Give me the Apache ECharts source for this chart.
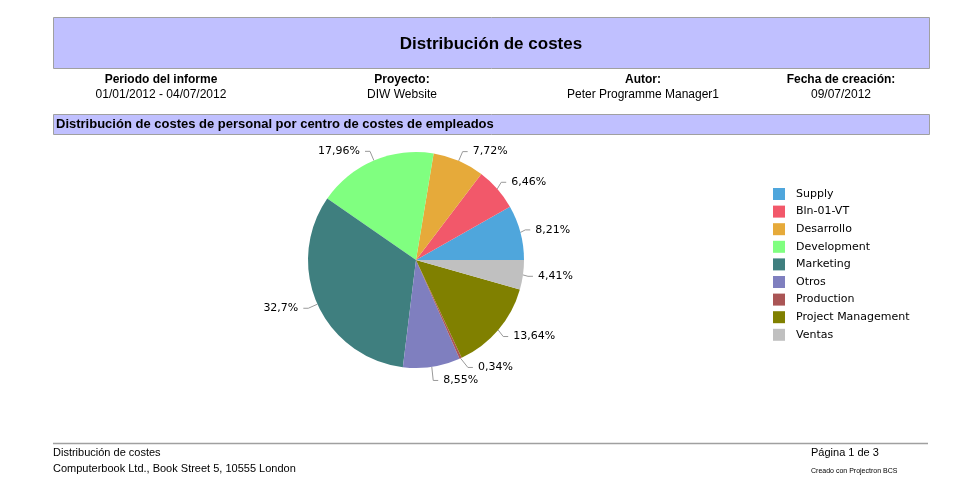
<!DOCTYPE html>
<html>
<head>
<meta charset="utf-8">
<script src="https://cdn.jsdelivr.net/npm/echarts@6/dist/echarts.min.js"></script>
<style>
  html, body { margin: 0; padding: 0; background: #fff; }
  #chart { width: 960px; height: 484px; }
</style>
</head>
<body>
<div id="chart"></div>
<script>
// centros de coste y porcentajes
const categories = ['Supply', 'Bln-01-VT', 'Desarrollo', 'Development', 'Marketing', 'Otros', 'Production', 'Project Management', 'Ventas']
const shares = [8.21, 6.46, 7.72, 17.96, 32.7, 8.55, 0.34, 13.64, 4.41]
const colors = ['#4fa6dc', '#f2586a', '#e6aa3a', '#80ff80', '#3f7f7f', '#7f7fbf', '#aa5555', '#808000', '#c0c0c0']

const headerLabels = ['Periodo del informe', 'Proyecto:', 'Autor:', 'Fecha de creación:']
const headerValues = ['01/01/2012 - 04/07/2012', 'DIW Website', 'Peter Programme Manager1', '09/07/2012']
const headerX = [161, 402, 643, 841]

const sans = '"Liberation Sans", Arial, sans-serif'
const chartFont = '"DejaVu Sans", sans-serif'

const chart = echarts.init(document.getElementById('chart'))

const headerTexts = []
headerLabels.forEach((label, i) => {
  headerTexts.push({
    type: 'text', x: headerX[i], y: 79.5,
    style: { text: label, font: 'bold 12px ' + sans, fill: '#000', textAlign: 'center', textVerticalAlign: 'middle' }
  })
  headerTexts.push({
    type: 'text', x: headerX[i], y: 94.5,
    style: { text: headerValues[i], font: '12px ' + sans, fill: '#000', textAlign: 'center', textVerticalAlign: 'middle' }
  })
})

chart.setOption({
  animation: false,
  color: colors,
  graphic: [
    {
      type: 'rect', shape: { x: 53.5, y: 17.5, width: 876, height: 51 },
      style: { fill: '#c0c0ff', stroke: '#a0a0a0', lineWidth: 1 }
    },
    {
      type: 'text', x: 491, y: 44,
      style: { text: 'Distribución de costes', font: 'bold 17px ' + sans, fill: '#000', textAlign: 'center', textVerticalAlign: 'middle' }
    },
    ...headerTexts,
    {
      type: 'rect', shape: { x: 53.5, y: 114.5, width: 876, height: 20 },
      style: { fill: '#c0c0ff', stroke: '#a0a0a0', lineWidth: 1 }
    },
    {
      type: 'text', x: 56, y: 124,
      style: { text: 'Distribución de costes de personal por centro de costes de empleados', font: 'bold 13px ' + sans, fill: '#000', textVerticalAlign: 'middle' }
    },
    {
      type: 'line', shape: { x1: 53, y1: 443.5, x2: 928, y2: 443.5 },
      style: { stroke: '#a0a0a0', lineWidth: 1.5 }
    },
    {
      type: 'text', x: 53, y: 453,
      style: { text: 'Distribución de costes', font: '11px ' + sans, fill: '#000', textVerticalAlign: 'middle' }
    },
    {
      type: 'text', x: 53, y: 469,
      style: { text: 'Computerbook Ltd., Book Street 5, 10555 London', font: '11px ' + sans, fill: '#000', textVerticalAlign: 'middle' }
    },
    {
      type: 'text', x: 811, y: 453,
      style: { text: 'Página 1 de 3', font: '11px ' + sans, fill: '#000', textVerticalAlign: 'middle' }
    },
    {
      type: 'text', x: 811, y: 471,
      style: { text: 'Creado con Projectron BCS', font: '7px ' + sans, fill: '#000', textVerticalAlign: 'middle' }
    }
  ],
  legend: {
    orient: 'vertical',
    left: 773,
    top: 188,
    padding: 0,
    itemWidth: 12,
    itemHeight: 12,
    itemGap: 5.6,
    icon: 'rect',
    selectedMode: false,
    textStyle: { fontFamily: chartFont, fontSize: 11, color: '#000', padding: [0, 0, 0, 6] },
    data: categories
  },
  series: [{
    type: 'pie',
    center: [416, 260],
    radius: 108,
    startAngle: 0,
    clockwise: false,
    avoidLabelOverlap: true,
    label: {
      fontFamily: chartFont,
      fontSize: 11,
      color: '#000',
      formatter: p => String(p.value).replace('.', ',') + '%'
    },
    labelLine: { length: 10, length2: 5, lineStyle: { color: '#999', width: 1 } },
    emphasis: { disabled: true },
    data: categories.map((name, i) => ({ name, value: shares[i] }))
  }]
})
</script>
</body>
</html>
